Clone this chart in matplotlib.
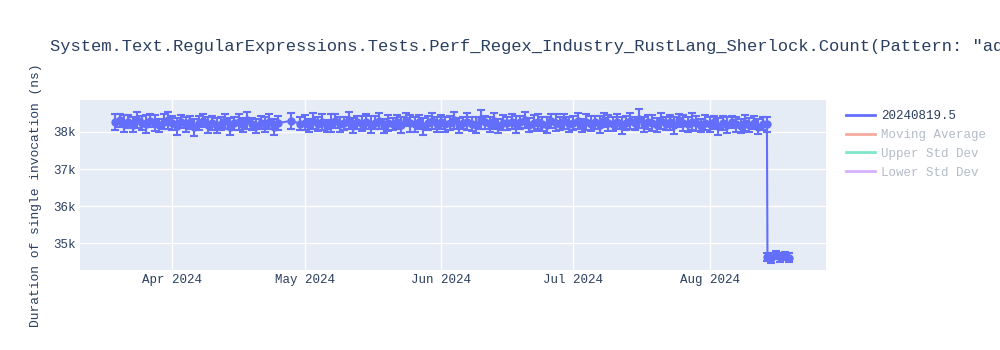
import pandas as pd
import matplotlib.pyplot as plt
import matplotlib.dates as mdates
from matplotlib.lines import Line2D
from matplotlib.ticker import FuncFormatter

# median duration per run (ns), by month
mar_vals = [38260, 38310, 38220, 38280, 38190, 38330, 38250, 38210, 38300, 38240, 38180, 38270, 38320]
apr_vals = [38230, 38150, 38280, 38200, 38260, 38120, 38240, 38300, 38190, 38250, 38170, 38220, 38290,
            38140, 38230, 38270, 38180, 38310, 38210, 38160, 38250, 38200, 38280, 38130, 38240, 38300, 38220]
may_vals = [38250, 38180, 38300, 38210, 38270, 38160, 38240, 38290, 38200, 38230, 38310, 38170, 38260,
            38220, 38280, 38190, 38250, 38300, 38160, 38240, 38210, 38270, 38180, 38330, 38230, 38200,
            38260, 38150, 38240, 38290, 38210]
jun_vals = [38270, 38200, 38250, 38310, 38180, 38240, 38280, 38220, 38190, 38340, 38260, 38210, 38300,
            38170, 38250, 38230, 38280, 38200, 38260, 38320, 38190, 38240, 38270, 38210, 38180, 38300,
            38250, 38220, 38290, 38200]
jul_vals = [38250, 38300, 38180, 38270, 38220, 38260, 38190, 38310, 38240, 38210, 38280, 38170, 38250,
            38300, 38230, 38360, 38200, 38270, 38240, 38190, 38290, 38220, 38260, 38180, 38310, 38240,
            38200, 38280, 38230, 38170, 38250]
aug_vals = [38200, 38260, 38150, 38230, 38180, 38270, 38210, 38160, 38240, 38190, 38250, 38140, 38220, 38200]
low_vals = [34640, 34600, 34680, 34620, 34660, 34610]

# std dev per run (ns)
mar_err = [210, 180, 230, 170, 200, 220, 190, 240, 180, 210, 170, 200, 230]
apr_err = [190, 220, 180, 210, 170, 230, 200, 180, 220, 190, 210, 170, 200, 230, 180, 210, 190, 220,
           170, 200, 180, 210, 190, 220, 200, 210, 180]
may_err = [200, 180, 220, 190, 210, 170, 230, 190, 200, 180, 220, 210, 170, 200, 190, 230, 180, 210,
           200, 220, 170, 190, 210, 180, 230, 200, 190, 220, 180, 210, 200]
jun_err = [180, 210, 190, 220, 200, 170, 230, 190, 210, 260, 180, 200, 220, 190, 210, 170, 200, 230,
           180, 210, 190, 220, 200, 180, 210, 190, 230, 170, 200, 210]
jul_err = [190, 210, 180, 220, 200, 170, 230, 190, 210, 180, 200, 220, 190, 210, 170, 250, 200, 180,
           220, 190, 210, 170, 200, 230, 180, 210, 190, 220, 200, 180, 210]
aug_err = [200, 180, 220, 190, 210, 170, 200, 180, 210, 190, 170, 200, 180, 190]
low_err = [110, 130, 100, 120, 110, 120]

missing_days = ["2024-04-26", "2024-04-27", "2024-04-29"]
low_dates = ["2024-08-14 03:00", "2024-08-15 00:00", "2024-08-16 00:00", "2024-08-17 00:00",
             "2024-08-18 00:00", "2024-08-19 00:00"]

title = ('System.Text.RegularExpressions.Tests.Perf_Regex_Industry_RustLang_Sherlock.Count(Pattern: "aq')
legend_names = ["20240819.5", "Moving Average", "Upper Std Dev", "Lower Std Dev"]

days = pd.date_range("2024-03-19", "2024-08-14", freq="D")
days = days[~days.isin(pd.to_datetime(missing_days))]
dates = list(days) + list(pd.to_datetime(low_dates))
vals = mar_vals + apr_vals + may_vals + jun_vals + jul_vals + aug_vals + low_vals
errs = mar_err + apr_err + may_err + jun_err + jul_err + aug_err + low_err

font = "Liberation Mono"
plt.rcParams['font.family'] = font
txt = "#2a3f5f"

fig = plt.figure(figsize=(10, 3.5), dpi=100)
ax = fig.add_axes([0.08, 80 / 350, 0.746, 170 / 350])
ax.set_facecolor("#e5ecf6")
for s in ax.spines.values():
    s.set_visible(False)
ax.grid(True, color="white", linewidth=1)
ax.set_axisbelow(True)

blue = "#636efa"
ax.errorbar(dates, vals, yerr=errs, fmt="-o", color=blue, markersize=5, linewidth=1.5,
            elinewidth=1.5, capsize=3, capthick=1.5, zorder=3)

ax.set_xlim(pd.Timestamp("2024-03-11"), pd.Timestamp("2024-08-27 10:00"))
ax.set_ylim(34280, 38860)
ax.set_yticks([35000, 36000, 37000, 38000])
ax.yaxis.set_major_formatter(FuncFormatter(lambda v, p: f"{int(v / 1000)}k"))
ax.xaxis.set_major_locator(mdates.MonthLocator(bymonthday=1))
ax.xaxis.set_major_formatter(mdates.DateFormatter("%b %Y"))
ax.tick_params(length=0, labelsize=9, colors=txt, pad=3)

ax.set_ylabel("Duration of single invocation (ns)", fontsize=9.4, color=txt)
ax.yaxis.set_label_coords(-0.051, 0.44)
fig.text(0.05, 1 - 47 / 350, title, fontsize=12.3, color=txt, va="center", ha="left")

colors = [blue, "#f5aa9d", "#80e6cb", "#d5b1fd"]
handles = [Line2D([], [], color=c, linewidth=2) for c in colors]
leg = fig.legend(handles, legend_names, loc="upper left", bbox_to_anchor=(0.846, 1 - 110 / 350),
                 frameon=False, fontsize=9, handlelength=2.3, handletextpad=0.5,
                 labelspacing=0.55, borderpad=0, borderaxespad=0)
for i, t in enumerate(leg.get_texts()):
    t.set_color(txt if i == 0 else "#b4bcc8")

fig.savefig("out.png", dpi=100)
